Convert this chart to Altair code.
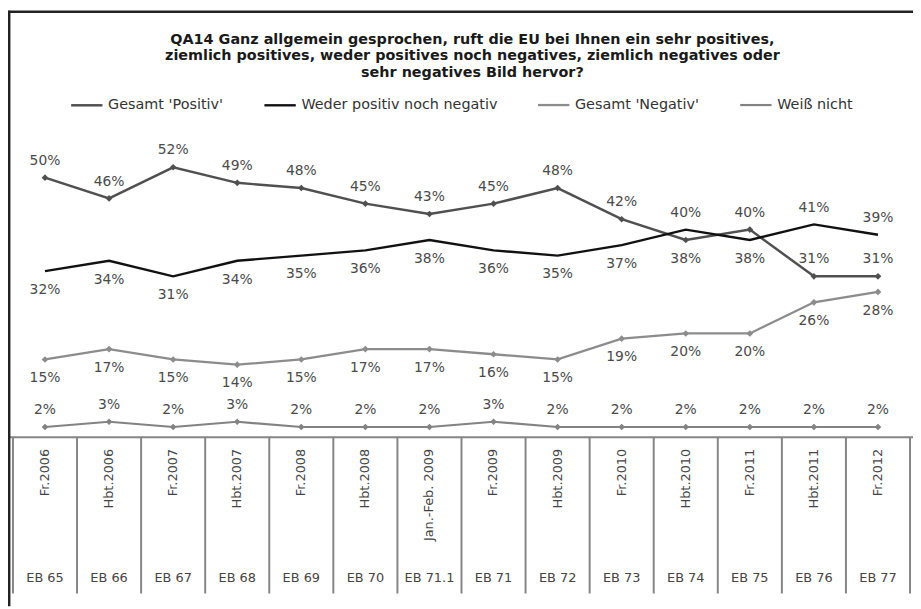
import altair as alt
import pandas as pd

waves = ["Fr.2006", "Hbt.2006", "Fr.2007", "Hbt.2007", "Fr.2008", "Hbt.2008",
         "Jan.-Feb. 2009", "Fr.2009", "Hbt.2009", "Fr.2010", "Hbt.2010",
         "Fr.2011", "Hbt.2011", "Fr.2012"]
eb_codes = ["EB 65", "EB 66", "EB 67", "EB 68", "EB 69", "EB 70", "EB 71.1",
            "EB 71", "EB 72", "EB 73", "EB 74", "EB 75", "EB 76", "EB 77"]

series_names = ["Gesamt 'Positiv'", "Weder positiv noch negativ",
                "Gesamt 'Negativ'", "Weiß nicht"]
positiv = [50, 46, 52, 49, 48, 45, 43, 45, 48, 42, 38, 40, 31, 31]
weder = [32, 34, 31, 34, 35, 36, 38, 36, 35, 37, 40, 38, 41, 39]
negativ = [15, 17, 15, 14, 15, 17, 17, 16, 15, 19, 20, 20, 26, 28]
weiss = [2, 3, 2, 3, 2, 2, 2, 3, 2, 2, 2, 2, 2, 2]

series_colors = ["#505050", "#111111", "#8c8c8c", "#838383"]
series_widths = [2.5, 2.2, 3.2, 2.5]

rows = []
for i, w in enumerate(waves):
    p, wd, n, k = positiv[i], weder[i], negativ[i], weiss[i]
    # label placement rules (keep labels away from the neighbouring line)
    p_side = "below" if (wd > p and p - n > 10) else "above"
    w_side = "above" if wd > p else "below"
    for name, v, side in [(series_names[0], p, p_side),
                          (series_names[1], wd, w_side),
                          (series_names[2], n, "below"),
                          (series_names[3], k, "above")]:
        rows.append({"wave": w, "idx": i, "series": name, "value": v,
                     "label": f"{v}%", "side": side})
df = pd.DataFrame(rows)
table = pd.DataFrame({"wave": waves, "eb": eb_codes})

xscale = alt.Scale(type="band", domain=waves, paddingInner=0, paddingOuter=0,
                   range=[5, 910])
yscale = alt.Scale(domain=[0, 60], range=[430.5, 116.1])
cscale = alt.Scale(domain=series_names, range=series_colors)
wscale = alt.Scale(domain=series_names, range=series_widths)


def xenc(bp=0.5):
    return alt.X("wave:N", scale=xscale, axis=None, bandPosition=bp)


yenc = alt.Y("value:Q", scale=yscale, axis=None)

base = alt.Chart(df)

lines = base.mark_line().encode(
    x=xenc(),
    y=yenc,
    color=alt.Color("series:N", scale=cscale, sort=series_names,
                    legend=alt.Legend(title=None, orient="none", direction="horizontal",
                                      legendX=62, legendY=78, columns=4,
                                      symbolType="stroke", symbolSize=1000,
                                      symbolStrokeWidth=2.5, labelFont="DejaVu Sans",
                                      labelFontSize=14.5, labelColor="#333333",
                                      labelLimit=400, labelOffset=4,
                                      columnPadding=36)),
    strokeWidth=alt.StrokeWidth("series:N", scale=wscale, legend=None),
    order=alt.Order("idx:Q"),
)

points = base.transform_filter(
    alt.datum.series != series_names[1]
).mark_point(shape="diamond", filled=True, size=45, opacity=1).encode(
    x=xenc(),
    y=yenc,
    color=alt.Color("series:N", scale=cscale, legend=None),
)

label_props = dict(font="DejaVu Sans", fontSize=14, color="#4a4a4a",
                   align="center", baseline="middle")
labels_above = base.transform_filter(alt.datum.side == "above").mark_text(
    dy=-17, **label_props).encode(x=xenc(), y=yenc, text="label:N")
labels_below = base.transform_filter(alt.datum.side == "below").mark_text(
    dy=19, **label_props).encode(x=xenc(), y=yenc, text="label:N")

tab = alt.Chart(table)
grid_color = "#858585"
col_lines = tab.mark_rule(color=grid_color, strokeWidth=2).encode(
    x=xenc(0), y=alt.value(430.5), y2=alt.value(588))
end_line = tab.transform_filter(alt.datum.wave == waves[-1]).mark_rule(
    color=grid_color, strokeWidth=2).encode(
    x=xenc(1), y=alt.value(430.5), y2=alt.value(588))
top_line = alt.Chart(pd.DataFrame({"v": [0]})).mark_rule(
    color=grid_color, strokeWidth=2).encode(
    y=alt.Y("v:Q", scale=yscale, axis=None))

wave_text = tab.mark_text(angle=270, align="right", baseline="middle",
                          font="DejaVu Sans", fontSize=13, color="#444444").encode(
    x=xenc(), y=alt.value(442), text="wave:N")
eb_text = tab.mark_text(align="center", baseline="middle",
                        font="DejaVu Sans", fontSize=13, color="#444444").encode(
    x=xenc(), y=alt.value(572), text="eb:N")

frame_src = alt.Chart(pd.DataFrame({"k": [0]}))
frame_top = frame_src.mark_rule(color="#222222", strokeWidth=2.5).encode(
    x=alt.value(0), x2=alt.value(913), y=alt.value(1.2))
frame_left = frame_src.mark_rule(color="#222222", strokeWidth=2.5).encode(
    x=alt.value(1.2), y=alt.value(0), y2=alt.value(601))

chart = alt.layer(
    top_line, col_lines, end_line, lines, points, labels_above, labels_below,
    wave_text, eb_text, frame_top, frame_left
).properties(
    width=913, height=601,
    autosize=alt.AutoSizeParams(type="none"),
    padding=0,
    background="white",
    title=alt.TitleParams(
        text=["QA14 Ganz allgemein gesprochen, ruft die EU bei Ihnen ein sehr positives,",
              "ziemlich positives, weder positives noch negatives, ziemlich negatives oder",
              "sehr negatives Bild hervor?"],
        font="DejaVu Sans", fontSize=14.5, fontWeight="bold", color="#1a1a1a",
        anchor="middle", frame="group", offset=0, dy=72, dx=12, lineHeight=17),
).configure_view(stroke="transparent")

chart.save("out.html", embed_options={"renderer": "svg", "actions": False})
